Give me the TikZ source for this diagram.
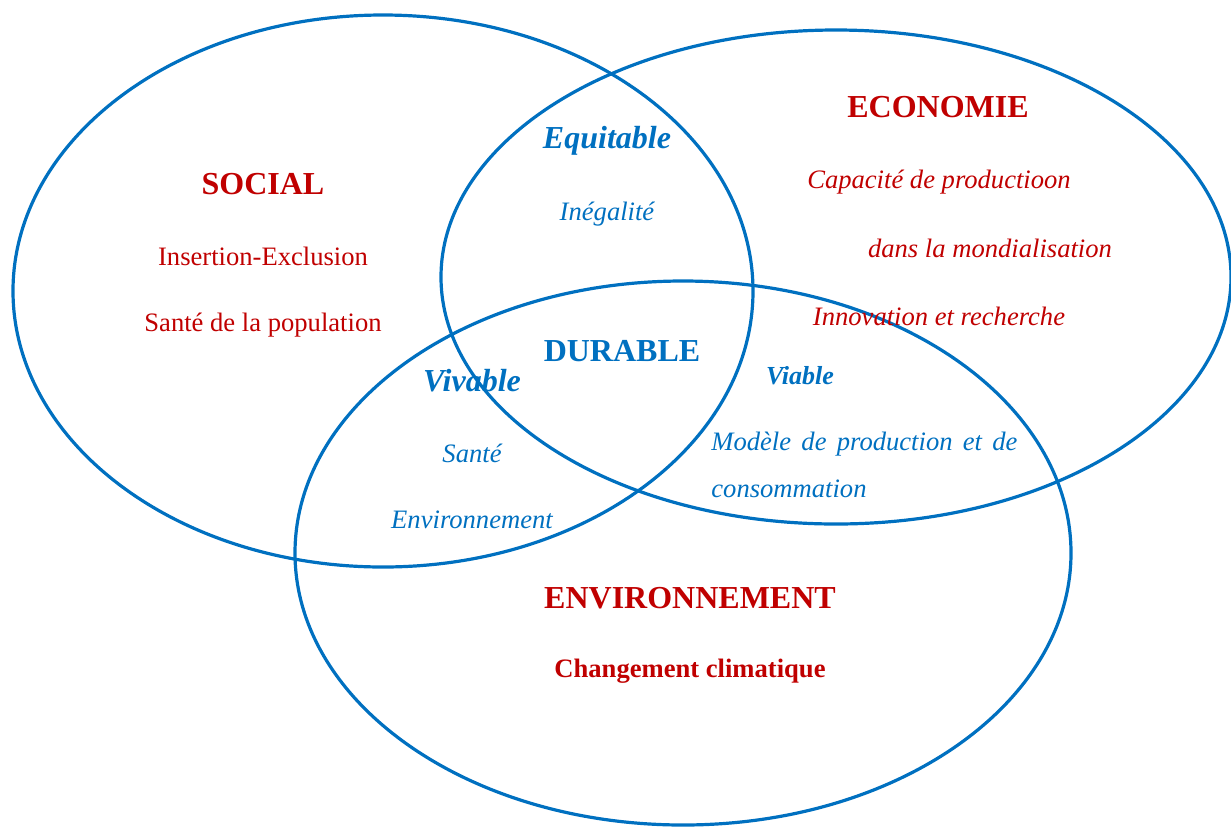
\documentclass[tikz,border=0pt]{standalone}
\usepackage{fontspec}
\setmainfont{Liberation Serif}
\definecolor{rouge}{HTML}{C00000}
\definecolor{bleu}{HTML}{0070C0}
\tikzset{
    cercle/.style={draw=bleu,line width=1.6pt},
    titre/.style={text=rouge,font=\fontsize{16}{19}\selectfont\bfseries,inner sep=0pt},
    theme/.style={text=rouge,font=\fontsize{13.3}{16}\selectfont,inner sep=0pt},
    themeit/.style={text=rouge,font=\fontsize{13.3}{16}\selectfont\itshape,inner sep=0pt},
    qualite/.style={text=bleu,font=\fontsize{16}{19}\selectfont\bfseries\itshape,inner sep=0pt},
    enjeu/.style={text=bleu,font=\fontsize{13.3}{16}\selectfont\itshape,inner sep=0pt}
}
\begin{document}
\begin{tikzpicture}[x=0.5pt,y=-0.5pt]
    \useasboundingbox (0,0) rectangle (1231,826);
    %% three spheres
    \draw[cercle] (383,291) ellipse [x radius=185pt,y radius=138pt];
    \draw[cercle] (836,277) ellipse [x radius=197.5pt,y radius=123.5pt];
    \draw[cercle] (683,553) ellipse [x radius=194pt,y radius=136pt];
    %% social
    \node[titre] (social) at (263,184) {SOCIAL};
    \node[theme] (insertion) at (263,256) {Insertion-Exclusion};
    \node[theme] (sante) at (263,325) {Santé de la population};
    %% economie
    \node[titre] (economie) at (938,107) {ECONOMIE};
    \node[themeit] (capacite) at (939,182) {Capacité de productioon};
    \node[themeit] (mondial) at (990,248) {dans la mondialisation};
    \node[themeit] (innovation) at (939,316) {Innovation et recherche};
    %% environnement
    \node[titre] (environ) at (690,598) {ENVIRONNEMENT};
    \node[theme,font={\fontsize{13.3}{16}\selectfont\bfseries}] (climat) at (690,671) {Changement climatique};
    %% intersections
    \node[qualite] (equitable) at (607,141) {Equitable};
    \node[enjeu] (inegalite) at (607,214) {Inégalité};
    \node[qualite,font={\fontsize{16}{19}\selectfont\bfseries\upshape}] (durable) at (622,351) {DURABLE};
    \node[qualite] (vivable) at (472,381) {Vivable};
    \node[enjeu] (santeviv) at (472,453) {Santé};
    \node[enjeu] (environviv) at (472,520) {Environnement};
    \node[qualite,font={\fontsize{13}{15}\selectfont\bfseries\itshape}] (viable) at (800,376) {Viable};
    \node[enjeu,anchor=base west] (modele) at (711,450) {\makebox[153pt][s]{Modèle de production et de}};
    \node[enjeu,anchor=base west] (conso) at (711,497) {consommation};
\end{tikzpicture}
\end{document}
